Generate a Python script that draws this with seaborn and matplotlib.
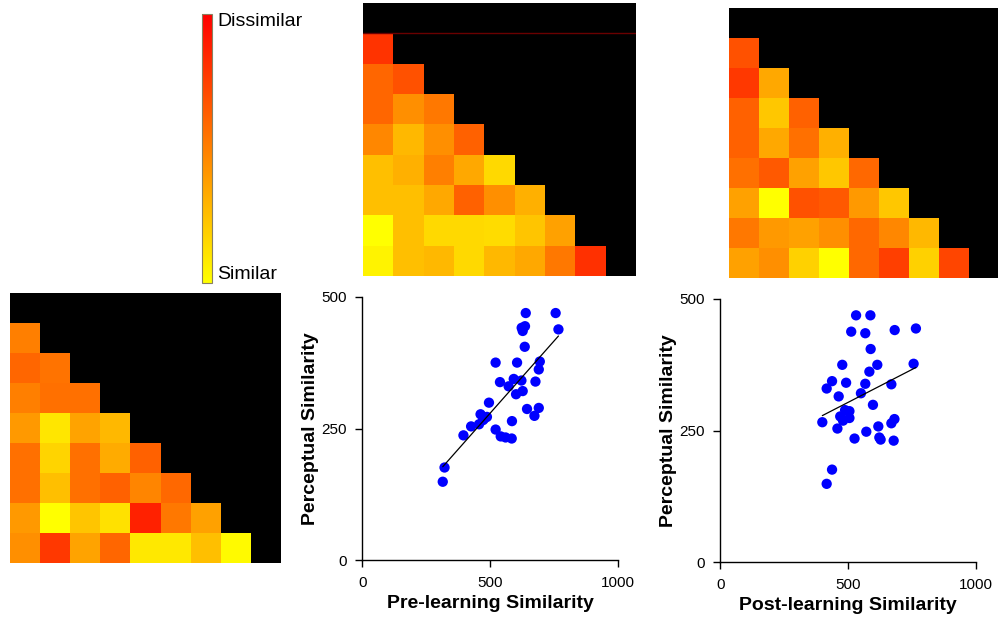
import numpy as np
import pandas as pd
import matplotlib
matplotlib.use("Agg")
import matplotlib.pyplot as plt
import seaborn as sns

sns.set_theme(style="ticks")
plt.rcParams["font.family"] = ["Liberation Sans", "DejaVu Sans"]
plt.rcParams["text.color"] = "black"
plt.rcParams["axes.labelcolor"] = "black"

# Lower-triangle dissimilarity values (0 = similar, 1 = dissimilar), one list per row
pre_rdm_rows = [
    [0.80],
    [0.60, 0.68],
    [0.60, 0.44, 0.53],
    [0.47, 0.28, 0.44, 0.62],
    [0.25, 0.31, 0.50, 0.34, 0.15],
    [0.25, 0.25, 0.34, 0.62, 0.44, 0.31],
    [0.00, 0.25, 0.15, 0.15, 0.14, 0.23, 0.37],
    [0.05, 0.25, 0.28, 0.15, 0.28, 0.34, 0.53, 0.81],
]
post_rdm_rows = [
    [0.68],
    [0.78, 0.34],
    [0.62, 0.22, 0.62],
    [0.62, 0.34, 0.56, 0.31],
    [0.56, 0.65, 0.37, 0.22, 0.59],
    [0.37, 0.00, 0.68, 0.65, 0.40, 0.22],
    [0.53, 0.40, 0.37, 0.44, 0.59, 0.47, 0.28],
    [0.37, 0.44, 0.18, 0.00, 0.59, 0.75, 0.18, 0.73],
]
perceptual_rdm_rows = [
    [0.50],
    [0.60, 0.55],
    [0.50, 0.56, 0.56],
    [0.40, 0.10, 0.36, 0.28],
    [0.56, 0.17, 0.56, 0.33, 0.62],
    [0.56, 0.25, 0.56, 0.62, 0.48, 0.59],
    [0.40, 0.00, 0.23, 0.12, 0.87, 0.53, 0.37],
    [0.44, 0.78, 0.36, 0.60, 0.09, 0.09, 0.25, 0.02],
]

# Pairwise similarity scores (one entry per stimulus pair)
perceptual_similarity = [469, 469, 444, 441, 438, 435, 405, 377, 375, 375, 362, 344,
                         341, 339, 338, 330, 321, 315, 299, 289, 287, 277, 274, 272,
                         269, 266, 264, 258, 254, 248, 237, 235, 233, 231, 176, 149]
pre_similarity = [640, 757, 637, 624, 768, 628, 636, 695, 522, 606, 691, 593,
                  623, 678, 539, 573, 628, 602, 496, 691, 645, 463, 674, 488,
                  478, 473, 586, 457, 426, 522, 396, 542, 561, 585, 322, 315]
post_similarity = [587, 531, 765, 682, 512, 567, 588, 756, 477, 614, 583, 437,
                   492, 567, 669, 416, 550, 463, 597, 488, 505, 469, 505, 681,
                   480, 399, 669, 618, 458, 571, 622, 525, 627, 678, 437, 416]

colorbar_ticks = [0.157, 0.291, 0.425, 0.557, 0.685, 0.822]


def to_matrix(rows):
    n = len(rows) + 1
    m = np.full((n, n), np.nan)
    for i, r in enumerate(rows, start=1):
        m[i, :len(r)] = r
    return m


W, H = 998, 621
fig = plt.figure(figsize=(W / 100, H / 100), dpi=100)


def px_axes(x0, y0, x1, y1):
    return fig.add_axes([x0 / W, (H - y1) / H, (x1 - x0) / W, (y1 - y0) / H])


ax_pre_rdm = px_axes(363, 3, 636, 276)
ax_post_rdm = px_axes(729, 8, 999, 278)
ax_perc_rdm = px_axes(10, 293, 281, 563)
cax = px_axes(202, 14, 212, 283)
ax_pre = px_axes(362.3, 296.7, 617.7, 560.3)
ax_post = px_axes(720.3, 299, 976, 562.3)

for ax, rows, with_cbar in [(ax_pre_rdm, pre_rdm_rows, True),
                            (ax_post_rdm, post_rdm_rows, False),
                            (ax_perc_rdm, perceptual_rdm_rows, False)]:
    mat = to_matrix(rows)
    sns.heatmap(mat, mask=np.isnan(mat), ax=ax, cmap="autumn_r", vmin=0, vmax=1,
                cbar=with_cbar, cbar_ax=cax if with_cbar else None,
                xticklabels=False, yticklabels=False)
    ax.set_facecolor("black")
    ax.tick_params(left=False, bottom=False)
    for s in ax.spines.values():
        s.set_visible(False)

ax_pre_rdm.axhline(1, color="#6a0000", lw=1)

cb = ax_pre_rdm.collections[0].colorbar
cb.set_ticks(colorbar_ticks)
cb.ax.tick_params(direction="in", length=3, width=0.8, color="#444444",
                  right=True, labelright=False)
cb.outline.set_linewidth(0.8)
cb.outline.set_edgecolor("#8a8060")
cax.text(1.5, 1.005, "Dissimilar", transform=cax.transAxes, ha="left", va="top",
         fontsize=14)
cax.text(1.5, 0.0, "Similar", transform=cax.transAxes, ha="left", va="bottom",
         fontsize=14)

df = pd.DataFrame({"pre": pre_similarity, "post": post_similarity,
                   "perceptual": perceptual_similarity})

for ax, xcol, xlabel in [(ax_pre, "pre", "Pre-learning Similarity"),
                         (ax_post, "post", "Post-learning Similarity")]:
    sns.regplot(data=df, x=xcol, y="perceptual", ax=ax, ci=None, color="#0000ff",
                scatter_kws=dict(s=55, edgecolor="none", alpha=1, clip_on=False),
                line_kws=dict(color="black", lw=0.9))
    ax.set_xlim(0, 1000)
    ax.set_ylim(0, 500)
    ax.set_xticks([0, 500, 1000])
    ax.set_yticks([0, 250, 500])
    sns.despine(ax=ax)
    for s in ("left", "bottom"):
        ax.spines[s].set_color("black")
        ax.spines[s].set_linewidth(1)
    ax.tick_params(direction="out", length=5, width=1, color="black",
                   labelsize=11, labelcolor="black", pad=6)
    ax.set_xlabel(xlabel, fontsize=14, fontweight="bold", labelpad=4)
    ax.set_ylabel("Perceptual Similarity", fontsize=14, fontweight="bold", labelpad=2)

fig.savefig("out.png", dpi=100)
